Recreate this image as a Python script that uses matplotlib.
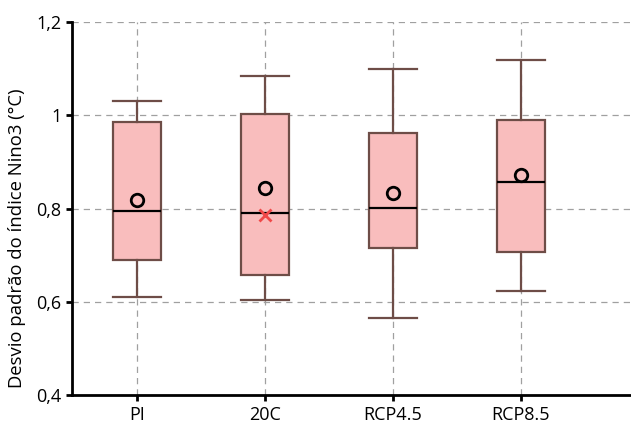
import matplotlib
matplotlib.use('Agg')
import matplotlib.pyplot as plt

# values
labels = ['PI', '20C', 'RCP4.5', 'RCP8.5']
whislo = [0.610, 0.604, 0.565, 0.623]
q1 = [0.690, 0.657, 0.715, 0.707]
med = [0.796, 0.791, 0.801, 0.857]
q3 = [0.985, 1.003, 0.962, 0.990]
whishi = [1.031, 1.084, 1.099, 1.118]
means = [0.819, 0.844, 0.834, 0.872]
obs_20c = 0.787

plt.rcParams['font.family'] = ['Open Sans', 'DejaVu Sans']

fig, ax = plt.subplots(figsize=(6.31, 4.25), dpi=100)
fig.subplots_adjust(left=0.114, right=1.0, top=0.948, bottom=0.07)

stats = []
for i in range(len(labels)):
    stats.append(dict(label=labels[i], whislo=whislo[i], q1=q1[i], med=med[i],
                      q3=q3[i], whishi=whishi[i], fliers=[]))

edge = '#6e4d47'
pos = [1, 2, 3, 4]
ax.bxp(stats, positions=pos, widths=0.38, patch_artist=True, showfliers=False,
       boxprops=dict(facecolor='#f9bdbd', edgecolor=edge, linewidth=1.6),
       whiskerprops=dict(color=edge, linewidth=1.6),
       capprops=dict(color=edge, linewidth=1.6),
       medianprops=dict(color='black', linewidth=1.6),
       capwidths=0.38, zorder=3)

ax.plot(pos, means, 'o', mfc='none', mec='black', mew=2, ms=9, zorder=5)
ax.plot([2], [obs_20c], 'x', color='#f04848', mew=2, ms=8, zorder=5)

ax.set_xlim(0.49, 4.86)
ax.set_ylim(0.4, 1.2)
ax.set_yticks([0.4, 0.6, 0.8, 1.0, 1.2])
ax.set_yticklabels(['0,4', '0,6', '0,8', '1', '1,2'])
ax.set_xticks(pos)
ax.set_xticklabels(labels)
ax.set_ylabel('Desvio padrão do índice Nino3 (°C)', fontsize=13.3)
ax.yaxis.set_label_coords(-0.083, 0.42)
ax.tick_params(labelsize=13, width=2, length=4)

ax.grid(True, color='#a0a0a0', linestyle=(0, (5, 4)), linewidth=0.9)
ax.set_axisbelow(True)
for s in ['top', 'right']:
    ax.spines[s].set_visible(False)
for s in ['left', 'bottom']:
    ax.spines[s].set_linewidth(2)

fig.savefig('out.png')
